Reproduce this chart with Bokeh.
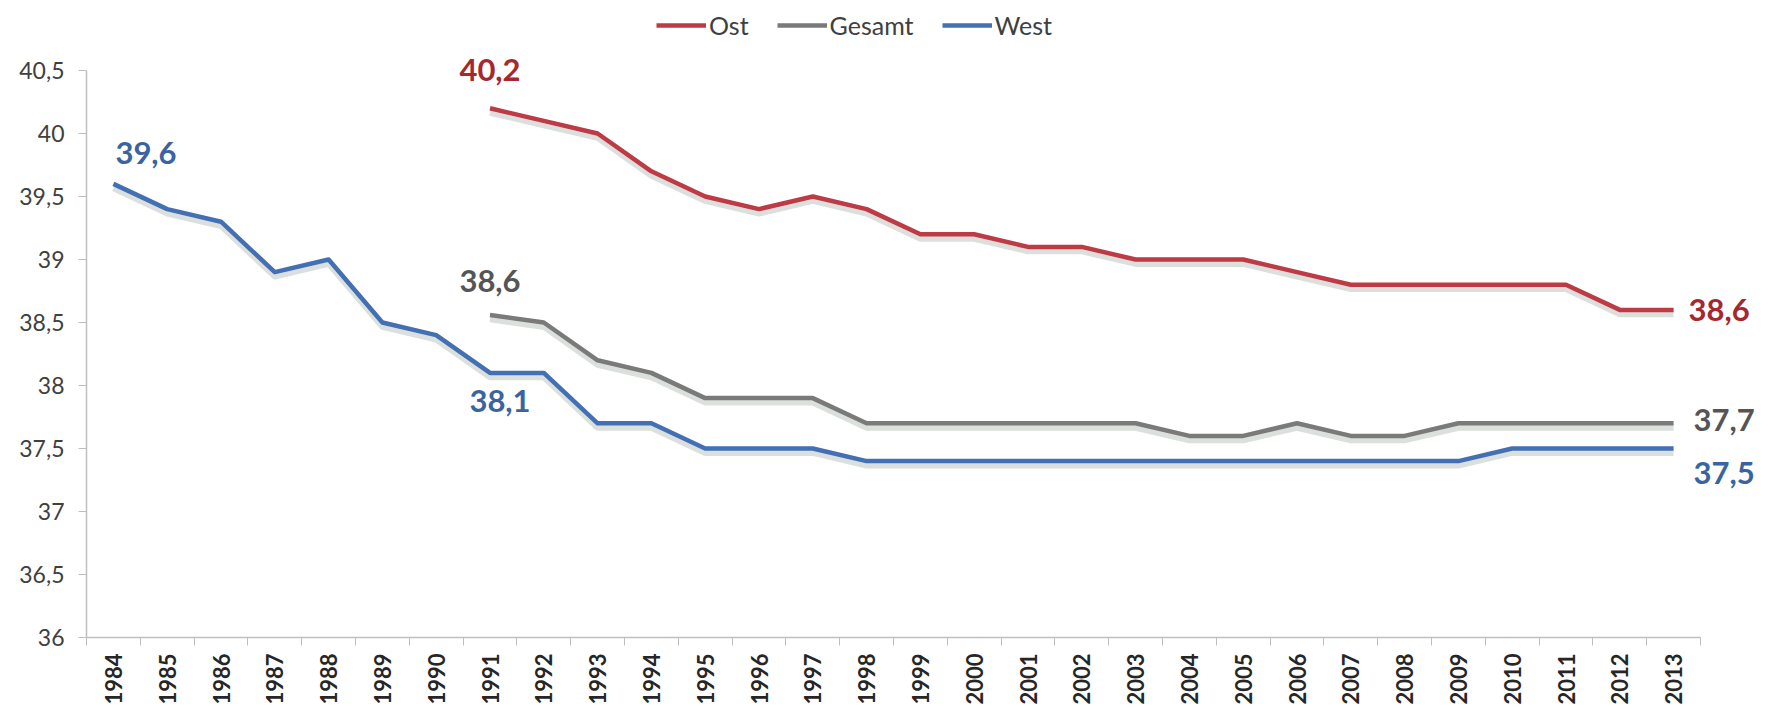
from bokeh.plotting import figure
from bokeh.models import (ColumnDataSource, FixedTicker, CustomJSTickFormatter,
                          Legend, LegendItem, Range1d)
from bokeh.core.properties import value
from bokeh.embed import file_html
from bokeh.resources import INLINE
import math

# ---------------- data ----------------
years = list(range(1984, 2014))
west = [39.6, 39.4, 39.3, 38.9, 39.0, 38.5, 38.4, 38.1, 38.1, 37.7,
        37.7, 37.5, 37.5, 37.5, 37.4, 37.4, 37.4, 37.4, 37.4, 37.4,
        37.4, 37.4, 37.4, 37.4, 37.4, 37.4, 37.5, 37.5, 37.5, 37.5]
years_ost = list(range(1991, 2014))
ost = [40.2, 40.1, 40.0, 39.7, 39.5, 39.4, 39.5, 39.4, 39.2, 39.2,
       39.1, 39.1, 39.0, 39.0, 39.0, 38.9, 38.8, 38.8, 38.8, 38.8,
       38.8, 38.6, 38.6]
gesamt = [38.56, 38.5, 38.2, 38.1, 37.9, 37.9, 37.9, 37.7, 37.7, 37.7,
          37.7, 37.7, 37.7, 37.6, 37.6, 37.7, 37.6, 37.6, 37.7, 37.7,
          37.7, 37.7, 37.7]
y_ticks = [36, 36.5, 37, 37.5, 38, 38.5, 39, 39.5, 40, 40.5]
series_names = ["Ost", "Gesamt", "West"]

# ---------------- layout / styles ----------------
W, H = 1775, 709
LEFT, BOTTOM = 86, 72
AXIS_TOP_PX = 70          # screen y of the top of the value axis
CAT_AREA_PX = 1614        # screen width of the category area
C_OST, C_GES, C_WEST = "#BE3A45", "#7A7A7A", "#4370B5"
T_OST, T_GES, T_WEST = "#A5282F", "#555555", "#3A64A0"
FONT = "Lato"

def fmt(v):
    return f"{v:.1f}".replace(".", ",")

frame_w = W - LEFT
frame_h = H - BOTTOM
y0, y1 = y_ticks[0], y_ticks[-1]
y_top = y0 + (y1 - y0) * frame_h / (frame_h - AXIS_TOP_PX)
x0 = years[0] - 0.5
x1 = x0 + len(years) * frame_w / CAT_AREA_PX

p = figure(width=W, height=H, output_backend="svg", toolbar_location=None,
           x_range=Range1d(x0, x1), y_range=Range1d(y0, y_top),
           min_border_left=LEFT, min_border_right=0,
           min_border_top=0, min_border_bottom=BOTTOM)
p.outline_line_color = None
p.grid.visible = False
p.background_fill_color = "white"
p.border_fill_color = "white"

# soft shadows below each line
SH = 0.035
for xs, ys in [(years_ost, ost), (years_ost, gesamt), (years, west)]:
    p.line(xs, [v - SH for v in ys], line_width=6, line_color="#9aa69a",
           line_alpha=0.35, line_join="round")

r_ost = p.line(years_ost, ost, line_width=4.5, line_color=C_OST, line_join="round")
r_ges = p.line(years_ost, gesamt, line_width=4.5, line_color=C_GES, line_join="round")
r_west = p.line(years, west, line_width=4.5, line_color=C_WEST, line_join="round")

# data labels
def label(x, y, color, align, dx, dy):
    src = ColumnDataSource(dict(x=[x], y=[y], t=[fmt(y)]))
    p.text("x", "y", text="t", source=src, text_color=color,
           text_font=value(FONT), text_font_style="bold", text_font_size="31px",
           text_align=align, text_baseline="middle", x_offset=dx, y_offset=dy)

label(years_ost[0], ost[0], T_OST, "center", 0, -38)
label(years_ost[-1], ost[-1], T_OST, "left", 15, 0)
label(years_ost[0], gesamt[0], T_GES, "center", 0, -34)
label(years_ost[-1], gesamt[-1], T_GES, "left", 20, -3)
label(years[0], west[0], T_WEST, "left", 2, -31)
i91 = years.index(1991)
label(years[i91], west[i91], T_WEST, "center", 10, 28)
label(years[-1], west[-1], T_WEST, "left", 20, 24)

# x axis: labels at categories, ticks between them
xa = p.xaxis[0]
xa.bounds = (years[0] - 0.5, years[-1] + 0.5)
xa.ticker = FixedTicker(ticks=years, minor_ticks=[y - 0.5 for y in years] + [years[-1] + 0.5])
xa.major_label_orientation = math.pi / 2
xa.major_tick_out = 0
xa.major_tick_in = 0
xa.minor_tick_out = 8
xa.minor_tick_in = 0
xa.minor_tick_line_color = "#BFBFBF"
xa.axis_line_color = "#BFBFBF"
xa.axis_line_width = 1.5
xa.major_label_text_font = FONT
xa.major_label_text_font_style = "bold"
xa.major_label_text_font_size = "22px"
xa.major_label_text_color = "#262626"
xa.major_label_standoff = 8

ya = p.yaxis[0]
ya.bounds = (y0, y1)
ya.ticker = FixedTicker(ticks=y_ticks)
ya.formatter = CustomJSTickFormatter(code="return tick.toString().replace('.', ',');")
ya.major_tick_out = 8
ya.major_tick_in = 0
ya.minor_tick_out = 0
ya.minor_tick_in = 0
ya.major_tick_line_color = "#BFBFBF"
ya.axis_line_color = "#BFBFBF"
ya.axis_line_width = 1.5
ya.major_label_text_font = FONT
ya.major_label_text_font_size = "23px"
ya.major_label_text_color = "#404040"
ya.major_label_standoff = 14

legend = Legend(items=[LegendItem(label=series_names[0], renderers=[r_ost]),
                       LegendItem(label=series_names[1], renderers=[r_ges]),
                       LegendItem(label=series_names[2], renderers=[r_west])],
                location=(570, 597), orientation="horizontal",
                glyph_width=50, glyph_height=26, label_standoff=3, spacing=28,
                padding=0, margin=0, border_line_color=None,
                background_fill_alpha=0,
                label_text_font=FONT, label_text_font_size="25px",
                label_text_color="#404040")
p.add_layout(legend)

open("out.html", "w").write(file_html(p, INLINE))
